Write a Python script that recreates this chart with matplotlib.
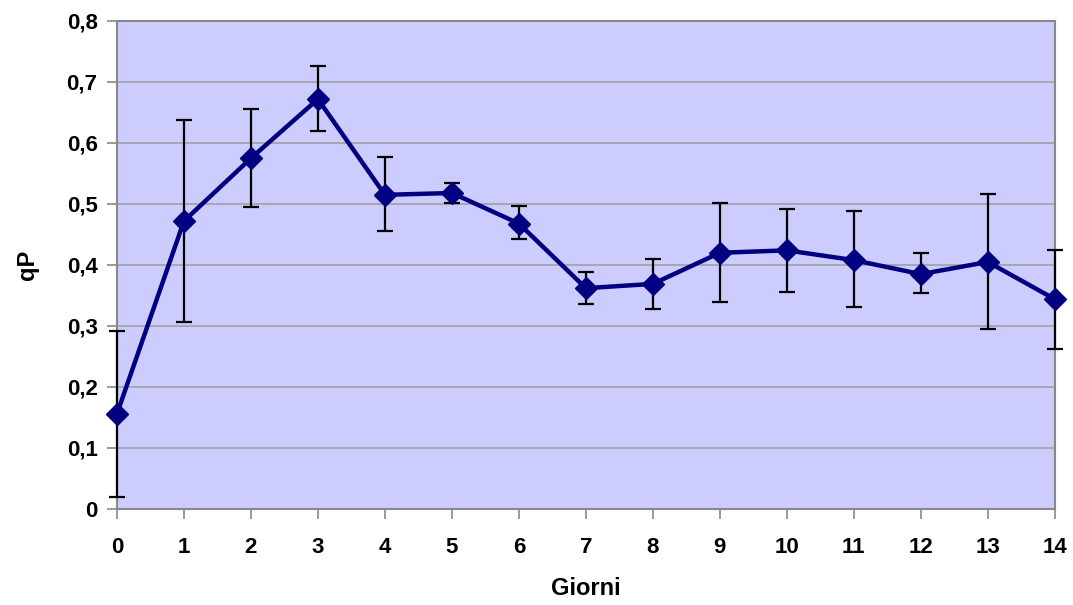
import numpy as np
import matplotlib
matplotlib.use("Agg")
from matplotlib import pyplot as plt
from matplotlib.ticker import FuncFormatter

giorni = [0, 1, 2, 3, 4, 5, 6, 7, 8, 9, 10, 11, 12, 13, 14]
qp = [0.156, 0.472, 0.575, 0.672, 0.515, 0.518, 0.468, 0.362, 0.369,
      0.420, 0.424, 0.408, 0.385, 0.405, 0.344]
err_top = [0.292, 0.637, 0.656, 0.726, 0.577, 0.534, 0.497, 0.389, 0.410,
           0.501, 0.492, 0.488, 0.419, 0.516, 0.425]
err_bottom = [0.020, 0.307, 0.495, 0.619, 0.455, 0.502, 0.443, 0.336, 0.328,
              0.339, 0.356, 0.331, 0.354, 0.295, 0.263]

plt.rcParams['font.family'] = ['Liberation Sans', 'DejaVu Sans']
plt.rcParams['font.weight'] = 'bold'

fig = plt.figure(figsize=(10.73, 6.05), dpi=100)
ax = fig.add_axes([0.109, 0.1587, 0.874, 0.8066])
ax.set_facecolor('#ccccff')

qp_arr = np.array(qp)
yerr = [qp_arr - np.array(err_bottom), np.array(err_top) - qp_arr]
eb = ax.errorbar(giorni, qp, yerr=yerr, fmt='none', ecolor='black', elinewidth=1.6,
                 capsize=6, capthick=1.6, zorder=3)
for art in eb.lines[1] + eb.lines[2]:
    art.set_clip_on(False)
ax.plot(giorni, qp, color='#000080', linewidth=3.2, marker='D', markersize=11,
        zorder=4, clip_on=False)

ax.set_xlim(0, 14)
ax.set_ylim(0, 0.8)
ax.set_xticks(giorni)
ax.set_yticks(np.arange(0, 0.81, 0.1))
ax.yaxis.set_major_formatter(FuncFormatter(
    lambda v, p: '0' if abs(v) < 1e-9 else ('%.1f' % v).replace('.', ',')))
ax.grid(axis='y', color='#a0a0a0', linewidth=1.2)
ax.set_axisbelow(True)

for s in ax.spines.values():
    s.set_color('#888888')
    s.set_linewidth(1.5)

ax.tick_params(axis='both', colors='#888888', labelcolor='black', labelsize=16,
               length=7, width=1.2)
ax.tick_params(axis='y', pad=7)
ax.tick_params(axis='x', pad=13)

ax.set_xlabel('Giorni', fontsize=17, fontweight='bold', labelpad=14)
ax.set_ylabel('qP', fontsize=17, fontweight='bold', labelpad=20)

plt.savefig('out.png', dpi=100)
